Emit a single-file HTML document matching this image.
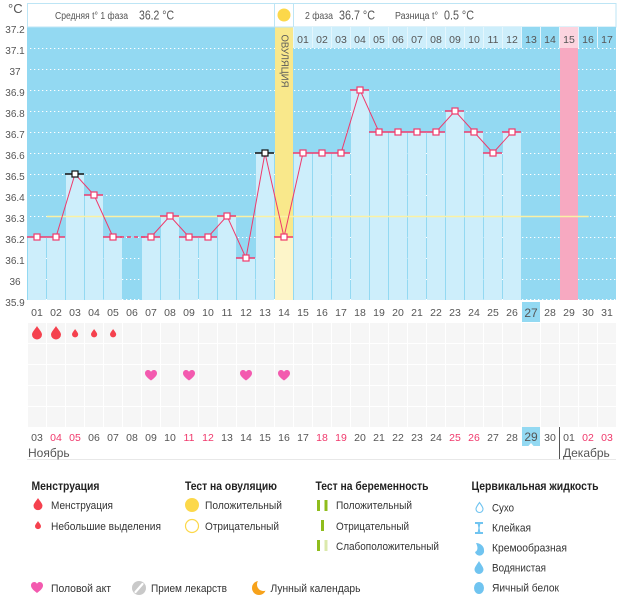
<!DOCTYPE html>
<html><head><meta charset="utf-8">
<style>
html,body{margin:0;padding:0;background:#fff;}
svg{display:block;font-family:"Liberation Sans","DejaVu Sans",sans-serif;}
</style></head>
<body>
<svg width="626" height="595" viewBox="0 0 626 595" xmlns="http://www.w3.org/2000/svg">
<rect x="0" y="0" width="626" height="595" fill="#fff"/>
<!-- plot background -->
<rect x="27" y="27" width="589" height="273" fill="#93d9f2"/>
<!-- dotted grid -->
<g stroke="#fff" stroke-width="1" stroke-dasharray="1.3 2.7">
<line x1="30" y1="48.5" x2="616" y2="48.5"/>
<line x1="30" y1="69.5" x2="616" y2="69.5"/>
<line x1="30" y1="90.5" x2="616" y2="90.5"/>
<line x1="30" y1="111.5" x2="616" y2="111.5"/>
<line x1="30" y1="132.5" x2="616" y2="132.5"/>
<line x1="30" y1="153.5" x2="616" y2="153.5"/>
<line x1="30" y1="174.5" x2="616" y2="174.5"/>
<line x1="30" y1="195.5" x2="616" y2="195.5"/>
<line x1="30" y1="216.5" x2="616" y2="216.5"/>
<line x1="30" y1="237.5" x2="616" y2="237.5"/>
<line x1="30" y1="258.5" x2="616" y2="258.5"/>
<line x1="30" y1="279.5" x2="616" y2="279.5"/>
<line x1="30" y1="299.5" x2="616" y2="299.5"/>
</g>
<!-- bars -->
<g fill="#cdeefb">
<rect x="28" y="237" width="18" height="63"/>
<rect x="47" y="237" width="18" height="63"/>
<rect x="66" y="174" width="18" height="126"/>
<rect x="85" y="195" width="18" height="105"/>
<rect x="104" y="237" width="18" height="63"/>
<rect x="142" y="237" width="18" height="63"/>
<rect x="161" y="216" width="18" height="84"/>
<rect x="180" y="237" width="18" height="63"/>
<rect x="199" y="237" width="18" height="63"/>
<rect x="218" y="216" width="18" height="84"/>
<rect x="237" y="258" width="18" height="42"/>
<rect x="256" y="153" width="18" height="147"/>
<rect x="294" y="153" width="18" height="147"/>
<rect x="313" y="153" width="18" height="147"/>
<rect x="332" y="153" width="18" height="147"/>
<rect x="351" y="90" width="18" height="210"/>
<rect x="370" y="132" width="18" height="168"/>
<rect x="389" y="132" width="18" height="168"/>
<rect x="408" y="132" width="18" height="168"/>
<rect x="427" y="132" width="18" height="168"/>
<rect x="446" y="111" width="18" height="189"/>
<rect x="465" y="132" width="18" height="168"/>
<rect x="484" y="153" width="18" height="147"/>
<rect x="503" y="132" width="18" height="168"/>
</g>
<!-- ovulation column -->
<rect x="275" y="27" width="18" height="210" fill="#f9e88b"/>
<rect x="275" y="237" width="18" height="63" fill="#fdf5c9"/>
<text x="284" y="61" transform="rotate(90 284 61)" text-anchor="middle" dominant-baseline="middle" font-size="10" fill="#5a5a5a" textLength="53" lengthAdjust="spacingAndGlyphs">ОВУЛЯЦИЯ</text>
<!-- pink column -->
<rect x="560" y="48" width="18" height="252" fill="#f7a9c1"/>
<!-- header box -->
<rect x="27.5" y="3.5" width="588.5" height="23.5" fill="#fff" stroke="#bde5f5" stroke-width="1"/>
<line x1="274.5" y1="3" x2="274.5" y2="27" stroke="#bde5f5"/>
<line x1="293.5" y1="3" x2="293.5" y2="27" stroke="#bde5f5"/>
<circle cx="284" cy="15" r="6.5" fill="#fcd84a"/>
<text x="55" y="19" font-size="10" fill="#555" textLength="73" lengthAdjust="spacingAndGlyphs">Средняя t° 1 фаза</text>
<text x="139" y="19.5" font-size="12.5" fill="#555" textLength="35" lengthAdjust="spacingAndGlyphs">36.2 °C</text>
<text x="305" y="19" font-size="10.5" fill="#555" textLength="28" lengthAdjust="spacingAndGlyphs">2 фаза</text>
<text x="339" y="19.5" font-size="12.5" fill="#555" textLength="36" lengthAdjust="spacingAndGlyphs">36.7 °C</text>
<text x="395" y="19" font-size="10" fill="#555" textLength="43" lengthAdjust="spacingAndGlyphs">Разница t°</text>
<text x="444" y="19.5" font-size="12.5" fill="#555" textLength="30" lengthAdjust="spacingAndGlyphs">0.5 °C</text>
<!-- second phase number row -->
<rect x="293" y="27" width="323" height="21" fill="#e4f6fd"/>
<g fill="#cdeefb">
<rect x="294" y="27" width="18" height="21"/><rect x="313" y="27" width="18" height="21"/><rect x="332" y="27" width="18" height="21"/><rect x="351" y="27" width="18" height="21"/><rect x="370" y="27" width="18" height="21"/><rect x="389" y="27" width="18" height="21"/><rect x="408" y="27" width="18" height="21"/><rect x="427" y="27" width="18" height="21"/><rect x="446" y="27" width="18" height="21"/><rect x="465" y="27" width="18" height="21"/><rect x="484" y="27" width="18" height="21"/><rect x="503" y="27" width="18" height="21"/>
</g>
<g fill="#93d9f2">
<rect x="522" y="27" width="18" height="21"/><rect x="541" y="27" width="18" height="21"/><rect x="579" y="27" width="18" height="21"/><rect x="598" y="27" width="18" height="21"/>
</g>
<rect x="560" y="27" width="18" height="21" fill="#fcd4df"/>
<g font-size="10.5" fill="#555" text-anchor="middle">
<text x="303" y="43">01</text><text x="322" y="43">02</text><text x="341" y="43">03</text><text x="360" y="43">04</text><text x="379" y="43">05</text><text x="398" y="43">06</text><text x="417" y="43">07</text><text x="436" y="43">08</text><text x="455" y="43">09</text><text x="474" y="43">10</text><text x="493" y="43">11</text><text x="512" y="43">12</text><text x="531" y="43">13</text><text x="550" y="43">14</text><text x="569" y="43">15</text><text x="588" y="43">16</text><text x="607" y="43">17</text>
</g>
<!-- coverline -->
<line x1="46.7" y1="216.5" x2="588.7" y2="216.5" stroke="#fbf1a4" stroke-width="1.5"/>
<!-- top segments -->
<g stroke="#ef3a6c" stroke-width="1.5">
<line x1="27" y1="237" x2="46" y2="237"/><line x1="46" y1="237" x2="65" y2="237"/>
<line x1="84" y1="195" x2="103" y2="195"/><line x1="103" y1="237" x2="122" y2="237"/>
<line x1="141" y1="237" x2="160" y2="237"/><line x1="160" y1="216" x2="179" y2="216"/>
<line x1="179" y1="237" x2="198" y2="237"/><line x1="198" y1="237" x2="217" y2="237"/>
<line x1="217" y1="216" x2="236" y2="216"/><line x1="236" y1="258" x2="255" y2="258"/>
<line x1="274" y1="237" x2="293" y2="237"/>
<line x1="293" y1="153" x2="312" y2="153"/><line x1="312" y1="153" x2="331" y2="153"/><line x1="331" y1="153" x2="350" y2="153"/>
<line x1="350" y1="90" x2="369" y2="90"/><line x1="369" y1="132" x2="388" y2="132"/><line x1="388" y1="132" x2="407" y2="132"/>
<line x1="407" y1="132" x2="426" y2="132"/><line x1="426" y1="132" x2="445" y2="132"/><line x1="445" y1="111" x2="464" y2="111"/>
<line x1="464" y1="132" x2="483" y2="132"/><line x1="483" y1="153" x2="502" y2="153"/><line x1="502" y1="132" x2="521" y2="132"/>
</g>
<g stroke="#111" stroke-width="1.5">
<line x1="65" y1="174" x2="84" y2="174"/><line x1="255" y1="153" x2="274" y2="153"/>
</g>
<!-- data line -->
<polyline fill="none" stroke="#ef3a6c" stroke-width="1" points="37,237 56,237 75,174 94,195 113,237"/>
<line x1="113" y1="237" x2="151" y2="237" stroke="#ef3a6c" stroke-width="1.5" stroke-dasharray="4 3"/>
<polyline fill="none" stroke="#ef3a6c" stroke-width="1" points="151,237 170,216 189,237 208,237 227,216 246,258 265,153 284,237 303,153 322,153 341,153 360,90 379,132 398,132 417,132 436,132 455,111 474,132 493,153 512,132"/>
<!-- markers -->
<g fill="#fff" stroke="#ef3a6c" stroke-width="1.2">
<rect x="34" y="234" width="6" height="6"/><rect x="53" y="234" width="6" height="6"/>
<rect x="91" y="192" width="6" height="6"/><rect x="110" y="234" width="6" height="6"/>
<rect x="148" y="234" width="6" height="6"/><rect x="167" y="213" width="6" height="6"/>
<rect x="186" y="234" width="6" height="6"/><rect x="205" y="234" width="6" height="6"/>
<rect x="224" y="213" width="6" height="6"/><rect x="243" y="255" width="6" height="6"/>
<rect x="281" y="234" width="6" height="6"/>
<rect x="300" y="150" width="6" height="6"/><rect x="319" y="150" width="6" height="6"/><rect x="338" y="150" width="6" height="6"/>
<rect x="357" y="87" width="6" height="6"/><rect x="376" y="129" width="6" height="6"/><rect x="395" y="129" width="6" height="6"/>
<rect x="414" y="129" width="6" height="6"/><rect x="433" y="129" width="6" height="6"/><rect x="452" y="108" width="6" height="6"/>
<rect x="471" y="129" width="6" height="6"/><rect x="490" y="150" width="6" height="6"/><rect x="509" y="129" width="6" height="6"/>
</g>
<g fill="#fff" stroke="#111" stroke-width="1.2">
<rect x="72" y="171" width="6" height="6"/><rect x="262" y="150" width="6" height="6"/>
</g>
<!-- y axis -->
<text x="8" y="13" font-size="13" fill="#555">°C</text>
<g font-size="10" fill="#555" text-anchor="middle">
<text x="15" y="33">37.2</text><text x="15" y="54">37.1</text><text x="15" y="75">37</text><text x="15" y="96">36.9</text>
<text x="15" y="117">36.8</text><text x="15" y="138">36.7</text><text x="15" y="159">36.6</text><text x="15" y="180">36.5</text>
<text x="15" y="201">36.4</text><text x="15" y="222">36.3</text><text x="15" y="243">36.2</text><text x="15" y="264">36.1</text>
<text x="15" y="285">36</text><text x="15" y="306">35.9</text>
</g>
<!-- day row 1 -->
<rect x="522" y="302" width="18" height="20" fill="#93d9f2"/>
<g font-size="10.5" fill="#555" text-anchor="middle">
<text x="37" y="316">01</text><text x="56" y="316">02</text><text x="75" y="316">03</text><text x="94" y="316">04</text><text x="113" y="316">05</text><text x="132" y="316">06</text><text x="151" y="316">07</text><text x="170" y="316">08</text><text x="189" y="316">09</text><text x="208" y="316">10</text><text x="227" y="316">11</text><text x="246" y="316">12</text><text x="265" y="316">13</text><text x="284" y="316">14</text><text x="303" y="316">15</text><text x="322" y="316">16</text><text x="341" y="316">17</text><text x="360" y="316">18</text><text x="379" y="316">19</text><text x="398" y="316">20</text><text x="417" y="316">21</text><text x="436" y="316">22</text><text x="455" y="316">23</text><text x="474" y="316">24</text><text x="493" y="316">25</text><text x="512" y="316">26</text><text x="531" y="317" font-size="12">27</text><text x="550" y="316">28</text><text x="569" y="316">29</text><text x="588" y="316">30</text><text x="607" y="316">31</text>
</g>
<!-- grid cells -->
<defs>
<pattern id="cells" x="27" y="323" width="19" height="21" patternUnits="userSpaceOnUse">
<rect x="1" y="0" width="18" height="20" fill="#f6f6f6"/>
</pattern>
</defs>
<rect x="27" y="323" width="589" height="104" fill="url(#cells)"/>
<!-- drops -->
<g fill="#f5414e">
<path transform="translate(32,326)" d="M5 0 C4 2 0 6 0 8.5 A5 5 0 0 0 10 8.5 C10 6 6 2 5 0 Z"/>
<path transform="translate(51,326)" d="M5 0 C4 2 0 6 0 8.5 A5 5 0 0 0 10 8.5 C10 6 6 2 5 0 Z"/>
<path transform="translate(72,329) scale(0.62)" d="M5 0 C4 2 0 6 0 8.5 A5 5 0 0 0 10 8.5 C10 6 6 2 5 0 Z"/>
<path transform="translate(91,329) scale(0.62)" d="M5 0 C4 2 0 6 0 8.5 A5 5 0 0 0 10 8.5 C10 6 6 2 5 0 Z"/>
<path transform="translate(110,329) scale(0.62)" d="M5 0 C4 2 0 6 0 8.5 A5 5 0 0 0 10 8.5 C10 6 6 2 5 0 Z"/>
</g>
<!-- hearts -->
<g fill="#f35aaf">
<path transform="translate(145,370)" d="M6 10.5 C2 7.5 0 5.5 0 3.2 C0 1.3 1.4 0 3.1 0 C4.4 0 5.4 0.8 6 1.8 C6.6 0.8 7.6 0 8.9 0 C10.6 0 12 1.3 12 3.2 C12 5.5 10 7.5 6 10.5 Z"/>
<path transform="translate(183,370)" d="M6 10.5 C2 7.5 0 5.5 0 3.2 C0 1.3 1.4 0 3.1 0 C4.4 0 5.4 0.8 6 1.8 C6.6 0.8 7.6 0 8.9 0 C10.6 0 12 1.3 12 3.2 C12 5.5 10 7.5 6 10.5 Z"/>
<path transform="translate(240,370)" d="M6 10.5 C2 7.5 0 5.5 0 3.2 C0 1.3 1.4 0 3.1 0 C4.4 0 5.4 0.8 6 1.8 C6.6 0.8 7.6 0 8.9 0 C10.6 0 12 1.3 12 3.2 C12 5.5 10 7.5 6 10.5 Z"/>
<path transform="translate(278,370)" d="M6 10.5 C2 7.5 0 5.5 0 3.2 C0 1.3 1.4 0 3.1 0 C4.4 0 5.4 0.8 6 1.8 C6.6 0.8 7.6 0 8.9 0 C10.6 0 12 1.3 12 3.2 C12 5.5 10 7.5 6 10.5 Z"/>
</g>
<!-- bottom date row -->
<rect x="522" y="427" width="18" height="19" fill="#93d9f2"/>
<polygon points="528,446.5 531,443 534,446.5" fill="#fff"/>
<g font-size="10.5" fill="#555" text-anchor="middle">
<text x="37" y="441">03</text><text x="56" y="441" fill="#f0386b">04</text><text x="75" y="441" fill="#f0386b">05</text><text x="94" y="441">06</text><text x="113" y="441">07</text><text x="132" y="441">08</text><text x="151" y="441">09</text><text x="170" y="441">10</text><text x="189" y="441" fill="#f0386b">11</text><text x="208" y="441" fill="#f0386b">12</text><text x="227" y="441">13</text><text x="246" y="441">14</text><text x="265" y="441">15</text><text x="284" y="441">16</text><text x="303" y="441">17</text><text x="322" y="441" fill="#f0386b">18</text><text x="341" y="441" fill="#f0386b">19</text><text x="360" y="441">20</text><text x="379" y="441">21</text><text x="398" y="441">22</text><text x="417" y="441">23</text><text x="436" y="441">24</text><text x="455" y="441" fill="#f0386b">25</text><text x="474" y="441" fill="#f0386b">26</text><text x="493" y="441">27</text><text x="512" y="441">28</text><text x="531" y="441" font-size="12">29</text><text x="550" y="441">30</text><text x="569" y="441">01</text><text x="588" y="441" fill="#f0386b">02</text><text x="607" y="441" fill="#f0386b">03</text>
</g>
<line x1="559.5" y1="427" x2="559.5" y2="459" stroke="#555" stroke-width="1"/>
<line x1="27" y1="459.5" x2="616" y2="459.5" stroke="#e8e8e8" stroke-width="1"/>
<text x="28" y="457" font-size="12" fill="#555">Ноябрь</text>
<text x="563" y="457" font-size="12" fill="#555">Декабрь</text>
<!-- legend -->
<g font-size="12" font-weight="bold" fill="#222">
<text x="31.5" y="490" textLength="68" lengthAdjust="spacingAndGlyphs">Менструация</text>
<text x="185" y="490" textLength="92" lengthAdjust="spacingAndGlyphs">Тест на овуляцию</text>
<text x="315.5" y="490" textLength="113" lengthAdjust="spacingAndGlyphs">Тест на беременность</text>
<text x="471.5" y="490" textLength="127" lengthAdjust="spacingAndGlyphs">Цервикальная жидкость</text>
</g>
<g font-size="11" fill="#333">
<text x="51" y="509" textLength="62" lengthAdjust="spacingAndGlyphs">Менструация</text>
<text x="51" y="530" textLength="110" lengthAdjust="spacingAndGlyphs">Небольшие выделения</text>
<text x="205" y="509" textLength="77" lengthAdjust="spacingAndGlyphs">Положительный</text>
<text x="205" y="530" textLength="74" lengthAdjust="spacingAndGlyphs">Отрицательный</text>
<text x="336" y="509" textLength="76" lengthAdjust="spacingAndGlyphs">Положительный</text>
<text x="336" y="530" textLength="73" lengthAdjust="spacingAndGlyphs">Отрицательный</text>
<text x="336" y="550" textLength="103" lengthAdjust="spacingAndGlyphs">Слабоположительный</text>
<text x="492" y="511.5" textLength="22" lengthAdjust="spacingAndGlyphs">Сухо</text>
<text x="492" y="531.5" textLength="39" lengthAdjust="spacingAndGlyphs">Клейкая</text>
<text x="492" y="551.5" textLength="75" lengthAdjust="spacingAndGlyphs">Кремообразная</text>
<text x="492" y="571.5" textLength="54" lengthAdjust="spacingAndGlyphs">Водянистая</text>
<text x="492" y="591.5" textLength="67" lengthAdjust="spacingAndGlyphs">Яичный белок</text>
<text x="51" y="592" textLength="60" lengthAdjust="spacingAndGlyphs">Половой акт</text>
<text x="151" y="592" textLength="76" lengthAdjust="spacingAndGlyphs">Прием лекарств</text>
<text x="270.5" y="592" textLength="90" lengthAdjust="spacingAndGlyphs">Лунный календарь</text>
</g>
<!-- legend icons -->
<g fill="#f5414e">
<path transform="translate(33.5,498) scale(0.9)" d="M5 0 C4 2 0 6 0 8.5 A5 5 0 0 0 10 8.5 C10 6 6 2 5 0 Z"/>
<path transform="translate(35,521) scale(0.6)" d="M5 0 C4 2 0 6 0 8.5 A5 5 0 0 0 10 8.5 C10 6 6 2 5 0 Z"/>
</g>
<circle cx="192" cy="505" r="7" fill="#fcd84a"/>
<circle cx="192" cy="526" r="6.5" fill="#fff" stroke="#fcd84a" stroke-width="1.2"/>
<g fill="#8fbd1c">
<rect x="317" y="500" width="3" height="11"/><rect x="324.5" y="500" width="3" height="11"/>
<rect x="321" y="520" width="3" height="11"/>
<rect x="317" y="540" width="3" height="11"/>
</g>
<rect x="324.5" y="540" width="3" height="11" fill="#dbe9ac"/>
<!-- cervical icons -->
<path transform="translate(475.5,502)" d="M4 0.5 C3 2 0.5 5 0.5 7 A3.5 3.5 0 0 0 7.5 7 C7.5 5 5 2 4 0.5 Z" fill="none" stroke="#70c4f0" stroke-width="1.1"/>
<path d="M475 522 L483 522 L483 524 L480.3 524 L479.6 528 L480.3 532 L483 532 L483 534 L475 534 L475 532 L477.7 532 L478.4 528 L477.7 524 L475 524 Z" fill="#70c4f0"/>
<path d="M476 543 C480 543 484 546 484 550 A4.5 4.5 0 0 1 475 552 C477.5 551 478.5 548 476 543 Z" fill="#70c4f0"/>
<path transform="translate(474.5,561)" d="M4.5 0 C3.5 2 0 6 0 8.5 A4.5 4.5 0 0 0 9 8.5 C9 6 5.5 2 4.5 0 Z" fill="#70c4f0"/>
<ellipse cx="479" cy="588" rx="5" ry="6" fill="#70c4f0"/>
<!-- bottom legend icons -->
<path transform="translate(31,582)" fill="#f35aaf" d="M6 11 C2 8 0 6 0 3.4 C0 1.4 1.5 0 3.3 0 C4.6 0 5.5 0.8 6 1.8 C6.5 0.8 7.4 0 8.7 0 C10.5 0 12 1.4 12 3.4 C12 6 10 8 6 11 Z"/>
<circle cx="139" cy="588" r="7" fill="#c9c9c9"/>
<line x1="135.5" y1="592" x2="142.5" y2="584" stroke="#fff" stroke-width="2.2" stroke-linecap="round"/>
<circle cx="259" cy="588" r="7" fill="#f7a21b"/>
<circle cx="263.5" cy="584.5" r="6.5" fill="#fff"/>
</svg>
</body></html>
